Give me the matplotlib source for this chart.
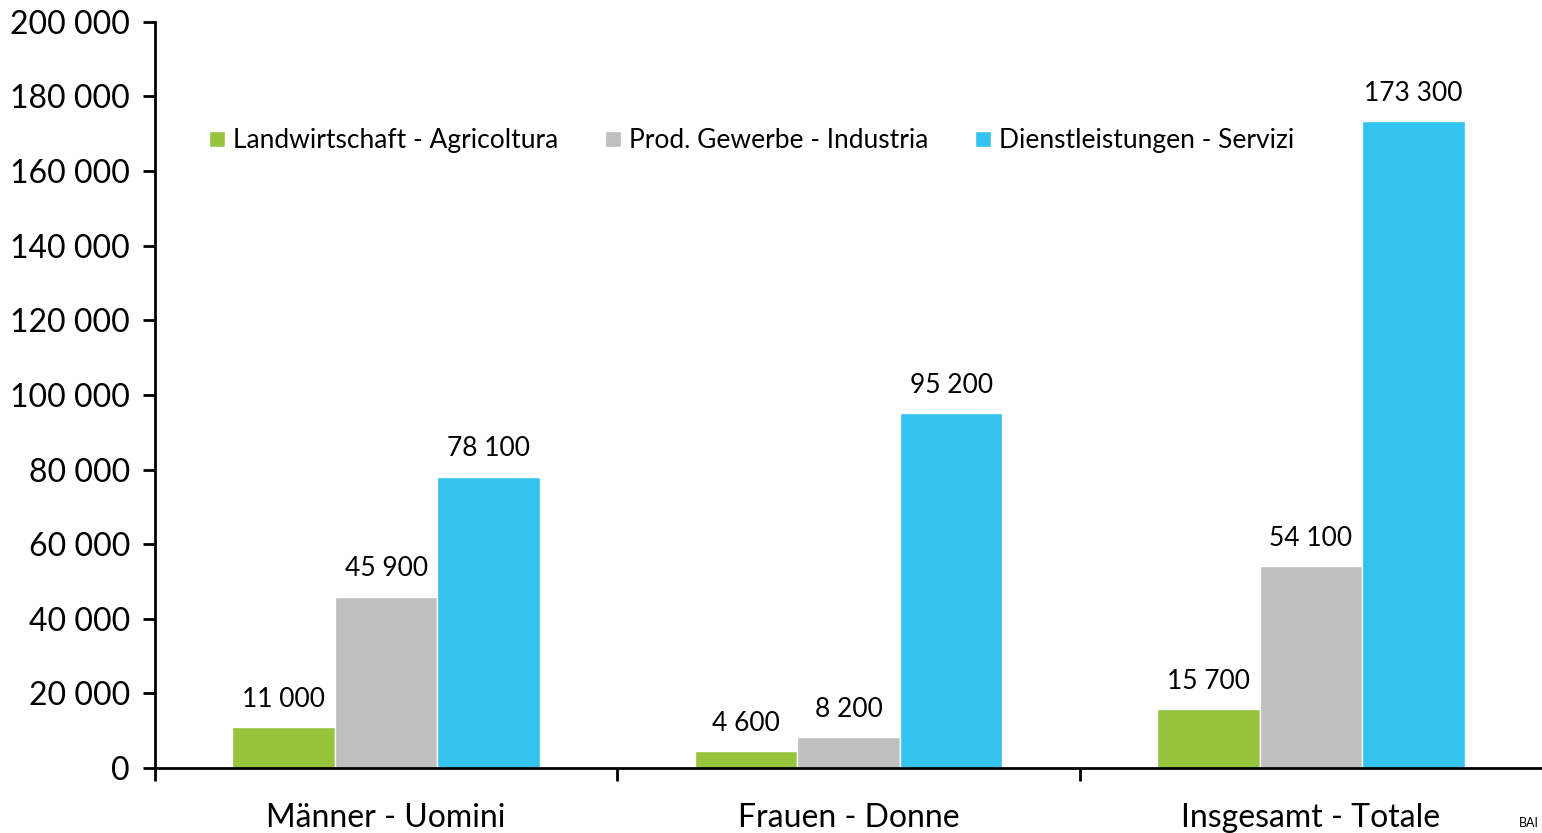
import numpy as np
import matplotlib.pyplot as plt
from matplotlib.ticker import FuncFormatter

plt.rcParams['font.family'] = ['Lato', 'DejaVu Sans']

categories = ['Männer - Uomini', 'Frauen - Donne', 'Insgesamt - Totale']
series = ['Landwirtschaft - Agricoltura', 'Prod. Gewerbe - Industria', 'Dienstleistungen - Servizi']
agri = [11000, 4600, 15700]
indu = [45900, 8200, 54100]
serv = [78100, 95200, 173300]
colors = ['#96C43C', '#BFBFBF', '#33C3EE']


def fmt(v, pos=None):
    return f'{int(v):,}'.replace(',', ' ')


fig = plt.figure(figsize=(15.42, 8.33), dpi=100)
ax = fig.add_axes([0.1005, 0.078, 0.8995, 0.8958])

x = np.arange(len(categories))
w = 0.222
for i, (vals, name, c) in enumerate(zip([agri, indu, serv], series, colors)):
    bars = ax.bar(x + (i - 1) * w, vals, w, color=c, edgecolor='white', linewidth=1, label=name)
    for b, v in zip(bars, vals):
        ax.annotate(fmt(v), (b.get_x() + b.get_width() / 2, v), xytext=(0, 11),
                    textcoords='offset points', ha='center', va='bottom', fontsize=19)

ax.set_xlim(-0.5, 2.5)
ax.set_ylim(0, 200000)
ax.set_yticks(np.arange(0, 200001, 20000))
ax.yaxis.set_major_formatter(FuncFormatter(fmt))
ax.tick_params(axis='y', length=9, width=2, labelsize=23, pad=9)

ax.set_xticks(x)
ax.set_xticklabels(categories)
ax.set_xticks([-0.5, 0.5, 1.5], minor=True)
ax.tick_params(axis='x', which='major', length=0, labelsize=23, pad=25)
ax.tick_params(axis='x', which='minor', length=9, width=2)

for s in ['top', 'right']:
    ax.spines[s].set_visible(False)
for s in ['left', 'bottom']:
    ax.spines[s].set_linewidth(2)

ax.legend(loc='center left', bbox_to_anchor=(0.039, 0.8405), ncol=3, frameon=False, fontsize=19,
          borderaxespad=0, borderpad=0,
          handlelength=0.6, handleheight=0.6, handletextpad=0.3, columnspacing=1.78)

fig.text(0.998, 0.005, 'BAI', ha='right', va='bottom', fontsize=9)

fig.savefig('out.png', dpi=100)
